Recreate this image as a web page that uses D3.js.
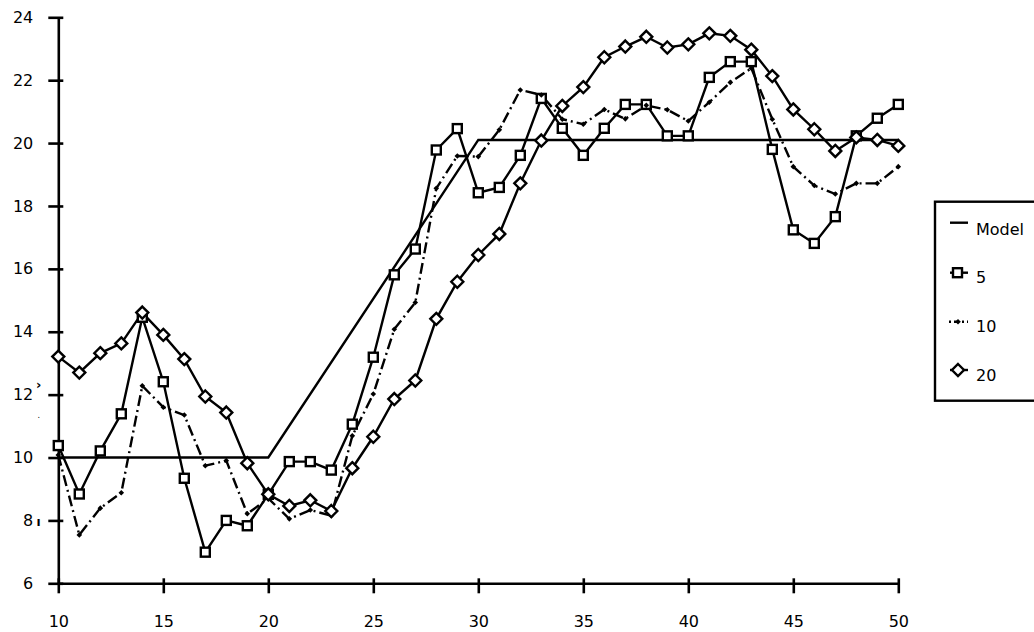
<!DOCTYPE html>
<html>
<head>
<meta charset="utf-8">
<script src="https://cdn.jsdelivr.net/npm/d3@7"></script>
<style>
  body { margin: 0; background: #fff; }
  svg text { font-family: "DejaVu Sans", Verdana, sans-serif; font-size: 16px; fill: #000; }
</style>
</head>
<body>
<div id="chart"></div>
<script>
// Values
const xs = d3.range(10, 51); // 10 .. 50

const modelX = [10, 20, 30, 50];
const modelY = [10, 10, 20.1, 20.1];

const series5 = [10.38, 8.84, 10.21, 11.39, 14.46, 12.41, 9.34, 6.99, 8.0, 7.83,
  8.83, 9.87, 9.87, 9.6, 11.06, 13.19, 15.81, 16.63, 19.78, 20.46,
  18.42, 18.59, 19.61, 21.42, 20.47, 19.61, 20.47, 21.23, 21.23, 20.23,
  20.23, 22.09, 22.59, 22.59, 19.8, 17.24, 16.81, 17.66, 20.23, 20.79, 21.23];

const series10 = [10.08, 7.54, 8.39, 8.88, 12.28, 11.6, 11.35, 9.74, 9.9, 8.21,
  8.7, 8.05, 8.33, 8.15, 10.69, 12.02, 14.08, 14.93, 18.56, 19.59,
  19.57, 20.42, 21.69, 21.53, 20.76, 20.6, 21.07, 20.77, 21.2, 21.06,
  20.7, 21.3, 21.93, 22.38, 20.76, 19.25, 18.65, 18.38, 18.72, 18.72, 19.25];

const series20 = [13.21, 12.7, 13.32, 13.63, 14.61, 13.9, 13.13, 11.94, 11.43, 9.82,
  8.83, 8.46, 8.64, 8.3, 9.66, 10.66, 11.86, 12.45, 14.41, 15.59,
  16.44, 17.11, 18.72, 20.08, 21.18, 21.78, 22.73, 23.07, 23.38, 23.04,
  23.14, 23.49, 23.41, 22.97, 22.13, 21.07, 20.44, 19.75, 20.18, 20.1, 19.91];

const yTicks = [6, 8, 10, 12, 14, 16, 18, 20, 22, 24];
const xTicks = [10, 15, 20, 25, 30, 35, 40, 45, 50];
const legendLabels = ["Model", "5", "10", "20"];

const width = 1034, height = 632;
const lw = 2.4;

const svg = d3.select('#chart').append('svg')
  .attr('width', width)
  .attr('height', height);

const x = d3.scaleLinear().domain([10, 50]).range([58.3, 898.3]);
const y = d3.scaleLinear().domain([6, 24]).range([583.3, 17.3]);

// Axes
const yAxis = svg.append('g')
  .attr('transform', `translate(${x(10)},0)`)
  .call(d3.axisLeft(y).tickValues(yTicks).tickSize(10).tickPadding(15).tickSizeOuter(0));
yAxis.selectAll('.tick line').attr('x1', 5).attr('x2', -10);

const xAxis = svg.append('g')
  .attr('transform', `translate(0,${y(6)})`)
  .call(d3.axisBottom(x).tickValues(xTicks).tickSize(10).tickPadding(22).tickSizeOuter(0));
xAxis.selectAll('.tick line').attr('y1', -5).attr('y2', 10);

svg.selectAll('.domain, .tick line').attr('stroke', '#000').attr('stroke-width', 2.6);
svg.selectAll('.tick text')
  .style('font-family', '"DejaVu Sans", Verdana, sans-serif')
  .style('font-size', '16px')
  .attr('fill', '#000');

// small stray glyphs beside the y axis
svg.append('text').attr('x', 36).attr('y', 389).style('font-size', '13px').style('font-weight', 'bold').text('›');
svg.append('text').attr('x', 37.5).attr('y', 418).style('font-size', '8px').text('.');
svg.append('text').attr('x', 36.5).attr('y', 526).style('font-size', '12px').style('font-weight', 'bold').text('ı');

const line = d3.line().x(d => x(d[0])).y(d => y(d[1]));

// Model
svg.append('path')
  .datum(modelX.map((v, i) => [v, modelY[i]]))
  .attr('d', line)
  .attr('fill', 'none').attr('stroke', '#000').attr('stroke-width', lw);

// 5
const pts5 = xs.map((v, i) => [v, series5[i]]);
svg.append('path').datum(pts5).attr('d', line)
  .attr('fill', 'none').attr('stroke', '#000').attr('stroke-width', lw);

// 10
const pts10 = xs.map((v, i) => [v, series10[i]]);
svg.append('path').datum(pts10).attr('d', line)
  .attr('fill', 'none').attr('stroke', '#000').attr('stroke-width', lw)
  .attr('stroke-dasharray', '11,4,2,4');

// 20
const pts20 = xs.map((v, i) => [v, series20[i]]);
svg.append('path').datum(pts20).attr('d', line)
  .attr('fill', 'none').attr('stroke', '#000').attr('stroke-width', lw);

// markers
function squareMark(g, cx, cy) {
  g.append('rect').attr('x', cx - 4.5).attr('y', cy - 4.5)
    .attr('width', 9).attr('height', 9)
    .attr('fill', '#fff').attr('stroke', '#000').attr('stroke-width', 2.4);
}
function diamondMark(g, cx, cy) {
  const r = 6;
  g.append('path').attr('d', `M${cx},${cy - r}L${cx + r},${cy}L${cx},${cy + r}L${cx - r},${cy}Z`)
    .attr('fill', '#fff').attr('stroke', '#000').attr('stroke-width', 2.4);
}
function dotMark(g, cx, cy) {
  const r = 2.8;
  g.append('path').attr('d', `M${cx},${cy - r}L${cx + r},${cy}L${cx},${cy + r}L${cx - r},${cy}Z`)
    .attr('fill', '#000');
}

const m5 = svg.append('g');
pts5.forEach(d => squareMark(m5, x(d[0]), y(d[1])));
const m10 = svg.append('g');
pts10.forEach(d => dotMark(m10, x(d[0]), y(d[1])));
const m20 = svg.append('g');
pts20.forEach(d => diamondMark(m20, x(d[0]), y(d[1])));

// Legend
const legend = svg.append('g');
legend.append('rect')
  .attr('x', 935).attr('y', 201.7).attr('width', 130).attr('height', 199)
  .attr('fill', '#fff').attr('stroke', '#000').attr('stroke-width', 2.4);

const legendY = [222.7, 272.7, 321.7, 370];
legendLabels.forEach((label, i) => {
  const ly = legendY[i];
  const seg = legend.append('line')
    .attr('x1', 950).attr('x2', 968).attr('y1', ly).attr('y2', ly)
    .attr('stroke', '#000').attr('stroke-width', lw);
  if (i === 2) seg.attr('stroke-dasharray', '2,3,5,3').attr('x1', 949);
  if (i === 1) squareMark(legend, 957.5, ly);
  if (i === 2) dotMark(legend, 958, ly);
  if (i === 3) diamondMark(legend, 958, ly);
  legend.append('text')
    .attr('x', 976)
    .attr('y', ly + (i === 0 ? 12.5 : 10.5))
    .text(label);
});
</script>
</body>
</html>
